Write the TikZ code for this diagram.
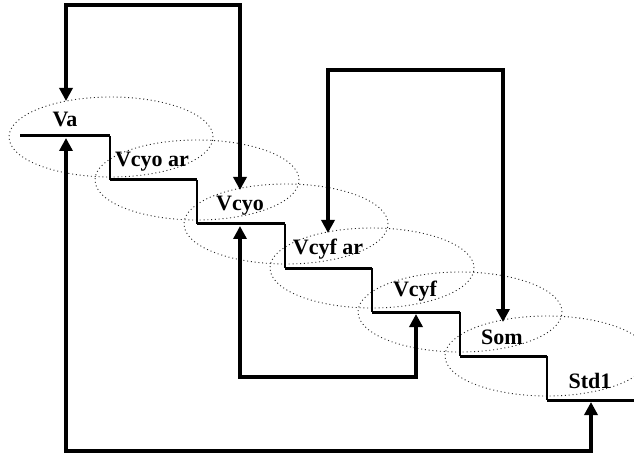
\documentclass[tikz,border=0pt]{standalone}
\usepackage{fontspec}
\setmainfont{Liberation Serif}
\usetikzlibrary{arrows.meta,shapes.geometric}
\tikzset{
  lbl/.style={font=\fontsize{22}{24}\selectfont\bfseries, inner sep=0pt, anchor=center},
  zone/.style={draw=black!85, dash pattern=on 1pt off 2.8pt, line width=0.9pt, ellipse, minimum width=204pt, minimum height=80pt, inner sep=0pt},
  tread/.style={line width=3pt},
  riser/.style={line width=1.5pt},
  link/.style={line width=3.5pt, {Triangle[width=13pt,length=13pt]}-{Triangle[width=13pt,length=13pt]}},
}
\begin{document}
\begin{tikzpicture}[x=1pt,y=-1pt]
\useasboundingbox (0,0) rectangle (634,454);
% zones
\node[zone] (z1) at (111,137) {};
\node[zone] (z2) at (197,180) {};
\node[zone] (z3) at (286,224) {};
\node[zone] (z4) at (372,268) {};
\node[zone] (z5) at (460,312) {};
\node[zone] (z6) at (547,356) {};
% stair corners
\coordinate (c0) at (20,136);
\coordinate (c1) at (110,136);
\coordinate (c1b) at (110,180);
\coordinate (c2) at (197,180);
\coordinate (c2b) at (197,224);
\coordinate (c3) at (285,224);
\coordinate (c3b) at (285,268);
\coordinate (c4) at (372,268);
\coordinate (c4b) at (372,312);
\coordinate (c5) at (460,312);
\coordinate (c5b) at (460,356);
\coordinate (c6) at (547,356);
\coordinate (c6b) at (547,400);
\coordinate (c7) at (634,400);
\draw[tread] (c0) -- (c1);
\draw[riser] (c1) -- (c1b);
\draw[tread] (c1b) -- (c2);
\draw[riser] (c2) -- (c2b);
\draw[tread] (c2b) -- (c3);
\draw[riser] (c3) -- (c3b);
\draw[tread] (c3b) -- (c4);
\draw[riser] (c4) -- (c4b);
\draw[tread] (c4b) -- (c5);
\draw[riser] (c5) -- (c5b);
\draw[tread] (c5b) -- (c6);
\draw[riser] (c6) -- (c6b);
\draw[tread] (c6b) -- (c7);
% labels
\node[lbl] (va) at (65,119) {Va};
\node[lbl] (vcyoar) at (152,162) {Vcyo ar};
\node[lbl] (vcyo) at (240,206) {Vcyo};
\node[lbl] (vcyfar) at (328,249) {Vcyf ar};
\node[lbl] (vcyf) at (415,291) {Vcyf};
\node[lbl] (som) at (502,337) {Som};
\node[lbl] (std) at (590,381) {Std1};
% arrow endpoints
\coordinate (a1) at (66,101);
\coordinate (a2) at (240,190);
\coordinate (b1) at (328,233);
\coordinate (b2) at (503,322);
\coordinate (d1) at (240,226);
\coordinate (d2) at (416,314);
\coordinate (e1) at (66,138);
\coordinate (e2) at (591,402);
\draw[link] (a1) -- (66,5) -- (240,5) -- (a2);
\draw[link] (b1) -- (328,70) -- (503,70) -- (b2);
\draw[link] (d1) -- (240,377) -- (416,377) -- (d2);
\draw[link] (e1) -- (66,451) -- (591,451) -- (e2);
\end{tikzpicture}
\end{document}
